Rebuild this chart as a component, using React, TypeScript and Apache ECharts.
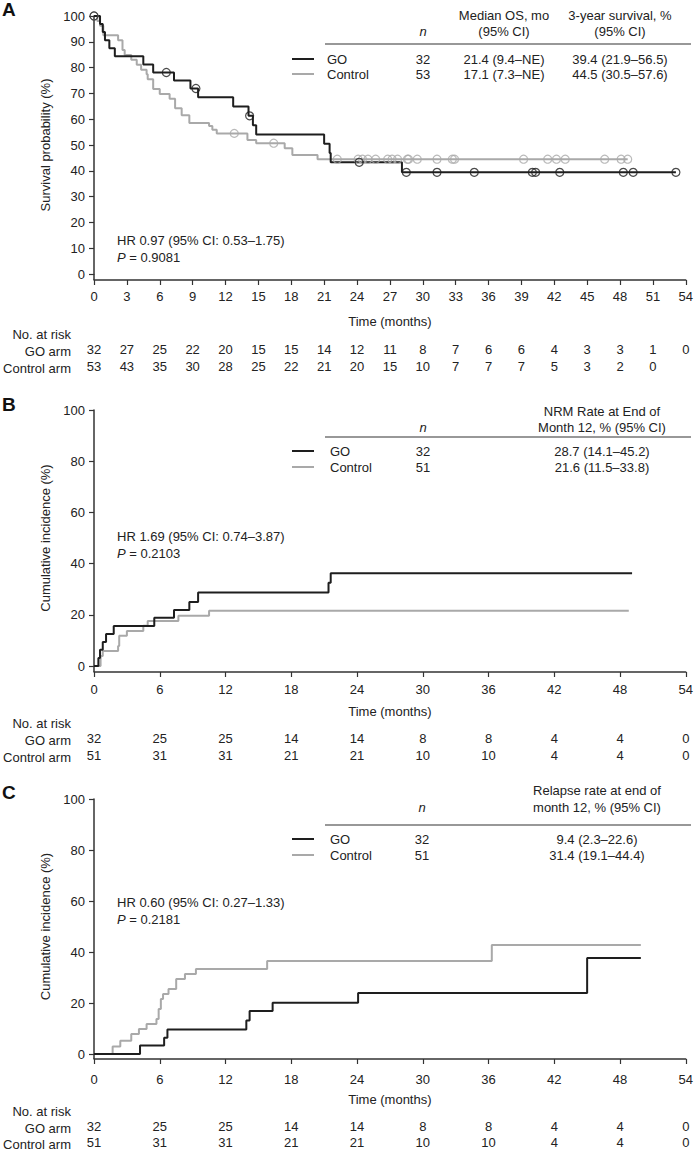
import React, { useEffect, useRef } from "react";
import * as echarts from "echarts";

const FONT = "'Liberation Sans', Arial, Helvetica, sans-serif";
const BLACK = "#1e1e1e";
const GRAY = "#a9a9a9";
const TXT = "#222";
const FS = 13;

// ---------- Panel A: overall survival ----------
const aGO: number[][] = [
  [0, 100], [0.55, 96.9], [0.8, 93.8], [1.0, 90.6], [1.4, 87.5], [1.9, 84.4],
  [4.5, 81.2], [5.4, 78.1], [7.3, 75.0], [8.8, 71.9], [9.5, 68.5], [12.7, 64.9],
  [14.1, 61.3], [14.5, 57.7], [14.8, 54.1], [21.0, 50.5], [21.5, 46.9], [21.6, 43.3],
  [28.1, 39.4], [53.1, 39.4],
];
const aGOCens: number[][] = [
  [0, 100], [6.6, 78.1], [9.3, 71.9], [14.2, 61.3], [24.2, 43.3], [28.5, 39.4], [31.3, 39.4],
  [34.7, 39.4], [40.0, 39.4], [40.3, 39.4], [42.5, 39.4], [48.3, 39.4], [49.2, 39.4], [53.1, 39.4],
];
const aCtl: number[][] = [
  [0, 100], [0.3, 98.1], [0.55, 96.2], [0.85, 92.5], [2.2, 90.6], [2.6, 86.8], [2.8, 84.9],
  [3.4, 83.0], [3.9, 81.1], [4.3, 79.2], [4.8, 77.4], [4.9, 75.5], [5.4, 71.7], [6.0, 69.8],
  [6.9, 67.9], [7.4, 64.2], [8.0, 61.5], [8.7, 58.5], [10.5, 57.4], [10.8, 55.9], [11.2, 54.5],
  [14.0, 51.9], [14.8, 50.7], [17.4, 48.7], [18.1, 46.1], [20.4, 44.5], [48.7, 44.5],
];
const aCtlCensTimes: number[] = [
  22.2, 24.1, 24.5, 25.0, 25.7, 26.8, 27.2, 27.7, 28.6, 28.7, 29.5, 31.3, 32.7, 32.9,
  39.2, 41.4, 42.2, 43.0, 46.6, 48.1, 48.7,
];
const aCtlCensEarly: number[][] = [[0, 100], [12.8, 54.5], [16.4, 50.7]];
const aRiskGO = [32, 27, 25, 22, 20, 15, 15, 14, 12, 11, 8, 7, 6, 6, 4, 3, 3, 1, 0];
const aRiskCtl = [53, 43, 35, 30, 28, 25, 22, 21, 20, 15, 10, 7, 7, 7, 5, 3, 2, 0];

// ---------- Panel B: NRM cumulative incidence ----------
const bGO: number[][] = [
  [0, 0], [0.4, 3.1], [0.55, 6.3], [0.8, 9.4], [1.1, 12.5], [1.8, 15.6], [5.5, 18.8],
  [7.3, 21.9], [8.7, 25.0], [9.5, 28.7], [21.4, 32.5], [21.6, 36.2], [49.1, 36.2],
];
const bCtl: number[][] = [
  [0, 0], [0.6, 3.9], [0.8, 5.9], [2.2, 7.8], [2.3, 11.8], [3.0, 13.7], [4.5, 15.7],
  [4.9, 17.6], [7.7, 19.6], [10.5, 21.6], [48.8, 21.6],
];
const bRiskGO = [32, 25, 25, 14, 14, 8, 8, 4, 4, 0];
const bRiskCtl = [51, 31, 31, 21, 21, 10, 10, 4, 4, 0];

// ---------- Panel C: relapse cumulative incidence ----------
const cGO: number[][] = [
  [0, 0], [4.2, 3.3], [6.4, 6.4], [6.7, 9.6], [13.9, 13.1], [14.2, 16.9], [16.3, 20.1],
  [24.1, 23.9], [45.0, 37.6], [49.9, 37.6],
];
const cCtl: number[][] = [
  [0, 0], [1.7, 2.9], [2.4, 5.2], [3.4, 7.8], [4.1, 9.8], [4.8, 11.8], [5.7, 13.7],
  [5.9, 17.6], [6.1, 21.6], [6.3, 23.5], [6.8, 25.5], [7.5, 29.4], [8.3, 31.4], [9.3, 33.3],
  [15.8, 36.5], [36.3, 42.7], [49.9, 42.7],
];
const cRiskGO = [32, 25, 25, 14, 14, 8, 8, 4, 4, 0];
const cRiskCtl = [51, 31, 31, 21, 21, 10, 10, 4, 4, 0];

const xTicksMax = 54;

type PanelCfg = {
  top: number; height: number; yInterval: number; xInterval: number; yName: string;
  axisOff: number; labelMargin: number; nameGap: number; riskGO: number[]; riskCtl: number[];
  riskGOY: number; riskCtlY: number;
};

const panels: PanelCfg[] = [
  { top: 16, height: 258, yInterval: 10, xInterval: 3, yName: "Survival probability (%)", axisOff: 6, labelMargin: 10, nameGap: 35, riskGO: aRiskGO, riskCtl: aRiskCtl, riskGOY: 351, riskCtlY: 368 },
  { top: 410, height: 256, yInterval: 20, xInterval: 6, yName: "Cumulative incidence (%)", axisOff: 6, labelMargin: 11, nameGap: 33, riskGO: bRiskGO, riskCtl: bRiskCtl, riskGOY: 740, riskCtlY: 757 },
  { top: 799, height: 255, yInterval: 20, xInterval: 6, yName: "Cumulative incidence (%)", axisOff: 5, labelMargin: 14, nameGap: 34, riskGO: cRiskGO, riskCtl: cRiskCtl, riskGOY: 1128, riskCtlY: 1144 },
];

const LEFT = 94;
const WIDTH = 594;

function buildOption() {
  const grid: any[] = [];
  const xAxis: any[] = [];
  const yAxis: any[] = [];
  const graphic: any[] = [];
  const labelStyle = { fontFamily: FONT, fontSize: FS, color: TXT };

  panels.forEach((p, gi) => {
    grid.push({ left: LEFT, width: WIDTH, top: p.top, height: p.height, containLabel: false });
    const bottom = p.top + p.height;
    xAxis.push({
      gridIndex: gi, type: "value", min: 0, max: xTicksMax, interval: p.xInterval,
      position: "bottom", offset: p.axisOff,
      axisLine: { show: true, onZero: false, lineStyle: { color: "#333", width: 1.5 } },
      axisTick: { show: true, length: 5, lineStyle: { color: "#333", width: 1.2 } },
      axisLabel: { ...labelStyle, margin: p.labelMargin },
      splitLine: { show: false },
      name: "Time (months)", nameLocation: "middle", nameGap: p.nameGap,
      nameTextStyle: { fontFamily: FONT, fontSize: FS, color: TXT },
    });
    const riskAxis = (arr: number[], y: number) => ({
      gridIndex: gi, type: "value", min: 0, max: xTicksMax, interval: p.xInterval,
      position: "bottom", offset: y - bottom - 8,
      axisLine: { show: false }, axisTick: { show: false }, splitLine: { show: false },
      axisLabel: {
        ...labelStyle, margin: 0, showMinLabel: true, showMaxLabel: true,
        formatter: (v: number) => {
          const i = Math.round(v / p.xInterval);
          return arr[i] !== undefined ? String(arr[i]) : "";
        },
      },
    });
    xAxis.push(riskAxis(p.riskGO, p.riskGOY));
    xAxis.push(riskAxis(p.riskCtl, p.riskCtlY));
    yAxis.push({
      gridIndex: gi, type: "value", min: 0, max: 100, interval: p.yInterval,
      axisLine: { show: true, lineStyle: { color: "#333", width: 1.5 } },
      axisTick: { show: true, length: 5, lineStyle: { color: "#333", width: 1.2 } },
      axisLabel: { ...labelStyle, margin: 9 },
      splitLine: { show: false },
      name: p.yName, nameLocation: "middle", nameGap: 41, nameRotate: 90,
      nameTextStyle: { fontFamily: FONT, fontSize: FS, color: TXT },
    });
    graphic.push({
      type: "line", shape: { x1: LEFT, y1: bottom, x2: LEFT, y2: bottom + p.axisOff },
      style: { stroke: "#333", lineWidth: 1.5 }, silent: true,
    });
    const rl = (text: string, y: number) => ({
      type: "text", x: 71, y,
      style: { text, fontFamily: FONT, fontSize: FS, fill: TXT, align: "right", verticalAlign: "middle" },
    });
    graphic.push(rl("No. at risk", p.riskGOY - 17));
    graphic.push(rl("GO arm", p.riskGOY));
    graphic.push(rl("Control arm", p.riskCtlY));
  });

  const txt = (text: string, x: number, y: number, align = "left", extra: any = {}) => ({
    type: "text", x, y,
    style: { text, fontFamily: FONT, fontSize: FS, fill: TXT, align, verticalAlign: "middle", ...extra },
  });
  const seg = (y: number, color: string) => ({
    type: "line", shape: { x1: 292, y1: y, x2: 314, y2: y },
    style: { stroke: color, lineWidth: 2 },
  });
  const rule = (y: number) => ({
    type: "line", shape: { x1: 325, y1: y, x2: 691, y2: y },
    style: { stroke: "#333", lineWidth: 1.2 },
  });
  const letter = (t: string, y: number) => ({
    type: "text", x: 2, y,
    style: { text: t, fontFamily: FONT, fontSize: 19, fontWeight: "bold", fill: "#111", align: "left", verticalAlign: "middle" },
  });
  const hr = (line1: string, pval: string, y: number) => [
    txt(line1, 117, y),
    {
      type: "text", x: 117, y: y + 17,
      style: {
        text: "{i|P} = " + pval, fontFamily: FONT, fontSize: FS, fill: TXT, align: "left", verticalAlign: "middle",
        rich: { i: { fontStyle: "italic", fontFamily: FONT, fontSize: FS, fill: TXT } },
      },
    },
  ];

  graphic.push(letter("A", 9), letter("B", 404), letter("C", 792));

  graphic.push(
    txt("Median OS, mo", 504, 15, "center"), txt("3-year survival, %", 620, 15, "center"),
    txt("n", 423, 31, "center", { fontStyle: "italic" }), txt("(95% CI)", 504, 31, "center"), txt("(95% CI)", 620, 31, "center"),
    rule(44),
    seg(59, BLACK), txt("GO", 327, 59), txt("32", 423, 59, "center"), txt("21.4 (9.4–NE)", 504, 59, "center"), txt("39.4 (21.9–56.5)", 620, 59, "center"),
    seg(74, GRAY), txt("Control", 327, 74), txt("53", 423, 74, "center"), txt("17.1 (7.3–NE)", 504, 74, "center"), txt("44.5 (30.5–57.6)", 620, 74, "center"),
    ...hr("HR 0.97 (95% CI: 0.53–1.75)", "0.9081", 240),
  );
  graphic.push(
    txt("NRM Rate at End of", 602, 411, "center"),
    txt("n", 423, 427, "center", { fontStyle: "italic" }), txt("Month 12, % (95% CI)", 602, 427, "center"),
    rule(437),
    seg(451, BLACK), txt("GO", 330, 451), txt("32", 423, 451, "center"), txt("28.7 (14.1–45.2)", 602, 451, "center"),
    seg(467, GRAY), txt("Control", 330, 467), txt("51", 423, 467, "center"), txt("21.6 (11.5–33.8)", 602, 467, "center"),
    ...hr("HR 1.69 (95% CI: 0.74–3.87)", "0.2103", 536),
  );
  graphic.push(
    txt("Relapse rate at end of", 597, 790, "center"),
    txt("n", 422, 807, "center", { fontStyle: "italic" }), txt("month 12, % (95% CI)", 597, 807, "center"),
    rule(825),
    seg(839, BLACK), txt("GO", 330, 839), txt("32", 422, 839, "center"), txt("9.4 (2.3–22.6)", 597, 839, "center"),
    seg(855, GRAY), txt("Control", 330, 855), txt("51", 422, 855, "center"), txt("31.4 (19.1–44.4)", 597, 855, "center"),
    ...hr("HR 0.60 (95% CI: 0.27–1.33)", "0.2181", 902),
  );

  const stepLine = (data: number[][], color: string, gi: number) => ({
    type: "line", step: "end", data, xAxisIndex: gi * 3, yAxisIndex: gi,
    showSymbol: false, symbol: "none", lineStyle: { color, width: 2 }, itemStyle: { color },
    z: color === BLACK ? 3 : 2,
  });
  const cens = (data: number[][], color: string, gi: number) => ({
    type: "scatter", data, xAxisIndex: gi * 3, yAxisIndex: gi,
    symbol: "circle", symbolSize: 8,
    itemStyle: { color: "rgba(0,0,0,0)", borderColor: color, borderWidth: 1.2 },
    z: color === BLACK ? 4 : 3,
  });

  const aCtlCens = [...aCtlCensEarly, ...aCtlCensTimes.map((t) => [t, 44.5])];

  const series: any[] = [
    stepLine(aCtl, GRAY, 0), stepLine(aGO, BLACK, 0), cens(aCtlCens, GRAY, 0), cens(aGOCens, BLACK, 0),
    stepLine(bCtl, GRAY, 1), stepLine(bGO, BLACK, 1),
    stepLine(cCtl, GRAY, 2), stepLine(cGO, BLACK, 2),
  ];

  return {
    animation: false,
    backgroundColor: "#ffffff",
    textStyle: { fontFamily: FONT },
    grid, xAxis, yAxis, series, graphic,
  };
}

export default function App() {
  const ref = useRef<HTMLDivElement>(null);
  useEffect(() => {
    document.body.style.margin = "0";
    const chart = echarts.init(ref.current!, null, { renderer: "svg" });
    chart.setOption(buildOption() as any);
    return () => chart.dispose();
  }, []);
  return <div ref={ref} style={{ width: 696, height: 1150 }} />;
}
